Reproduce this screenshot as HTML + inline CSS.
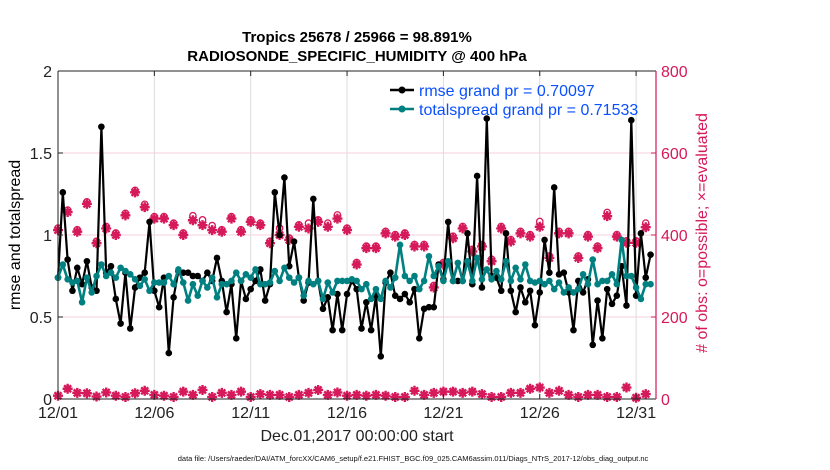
<!DOCTYPE html>
<html><head><meta charset="utf-8">
<style>
body{margin:0;background:#fff;}
svg{display:block;font-family:"Liberation Sans",Arial,sans-serif;}
</style></head>
<body>
<svg id="chart" width="830" height="470" viewBox="0 0 830 470">
  <rect width="830" height="470" fill="#fff"/>
  <g id="grid"></g>
  <g id="pinkSeries"></g>
  <g id="lines"></g>
  <g id="axes"></g>
  <text x="357" y="42" text-anchor="middle" font-size="15" font-weight="bold">Tropics 25678 / 25966 = 98.891%</text>
  <text x="357" y="61" text-anchor="middle" font-size="15" font-weight="bold">RADIOSONDE_SPECIFIC_HUMIDITY @ 400 hPa</text>
  <text transform="translate(20,235) rotate(-90)" text-anchor="middle" font-size="16">rmse and totalspread</text>
  <text transform="translate(707,233) rotate(-90)" text-anchor="middle" font-size="16" fill="#d6195a"># of obs: o=possible; ×=evaluated</text>
  <text x="357" y="441" text-anchor="middle" font-size="16" fill="#222">Dec.01,2017 00:00:00 start</text>
  <text x="413" y="461" text-anchor="middle" font-size="7.5" fill="#111">data file: /Users/raeder/DAI/ATM_forcXX/CAM6_setup/f.e21.FHIST_BGC.f09_025.CAM6assim.011/Diags_NTrS_2017-12/obs_diag_output.nc</text>
  <g>
    <line x1="390" y1="90" x2="414" y2="90" stroke="#000" stroke-width="2.5"/>
    <circle cx="402" cy="90" r="3.5" fill="#000"/>
    <text x="419" y="96" font-size="16" fill="#0a50ff">rmse grand pr = 0.70097</text>
    <line x1="390" y1="109" x2="414" y2="109" stroke="#008080" stroke-width="2.5"/>
    <circle cx="402" cy="109" r="3.5" fill="#008080"/>
    <text x="419" y="115" font-size="16" fill="#0a50ff">totalspread grand pr = 0.71533</text>
  </g>
</svg>
<script>
const rmse=[0.74,1.26,0.85,0.66,0.80,0.70,0.84,0.68,0.66,1.66,0.77,0.81,0.61,0.46,0.77,0.43,0.68,0.74,0.77,1.08,0.66,0.56,0.74,0.28,0.62,0.78,0.77,0.77,0.75,0.75,0.72,0.77,0.72,0.86,0.72,0.53,0.70,0.37,0.72,0.61,0.67,0.72,0.79,0.60,0.70,1.26,1.00,1.35,0.81,0.96,0.74,0.60,0.71,1.22,0.72,0.55,0.62,0.42,0.64,0.42,0.64,0.72,0.67,0.43,0.59,0.42,0.63,0.26,0.71,0.77,0.63,0.61,0.64,0.59,0.67,0.37,0.55,0.56,0.56,0.82,0.73,1.08,0.72,0.72,0.72,1.01,0.70,1.36,0.68,1.71,0.75,0.74,0.66,1.01,0.66,0.53,0.68,0.59,0.66,0.45,0.65,0.97,0.77,1.29,0.76,0.77,0.65,0.42,0.72,0.65,0.73,0.33,0.60,0.37,0.67,0.58,0.63,0.81,0.57,1.70,0.63,1.01,0.74,0.88];
const spread=[0.74,0.82,0.73,0.71,0.72,0.59,0.74,0.65,0.75,0.82,0.75,0.77,0.74,0.80,0.78,0.76,0.73,0.69,0.73,0.66,0.71,0.71,0.71,0.75,0.70,0.79,0.71,0.60,0.70,0.63,0.72,0.68,0.74,0.62,0.70,0.70,0.72,0.77,0.72,0.76,0.74,0.79,0.70,0.70,0.71,0.78,0.72,0.80,0.74,0.71,0.74,0.63,0.72,0.70,0.72,0.61,0.71,0.65,0.72,0.72,0.72,0.73,0.72,0.67,0.70,0.61,0.67,0.61,0.72,0.68,0.74,0.94,0.75,0.72,0.75,0.67,0.72,0.87,0.75,0.81,0.72,0.84,0.72,0.83,0.72,0.84,0.72,0.86,0.73,0.79,0.73,0.78,0.73,0.84,0.72,0.80,0.73,0.82,0.72,0.71,0.72,0.70,0.72,0.67,0.71,0.65,0.68,0.65,0.67,0.76,0.70,0.85,0.70,0.72,0.72,0.76,0.70,0.97,0.75,0.75,0.68,0.61,0.70,0.70];
const obsEvaluated=[412,456,408,476,380,416,400,448,504,468,440,440,424,400,436,424,412,408,440,408,432,424,380,400,388,420,416,432,420,440,412,328,368,368,404,396,400,372,372,272,328,392,416,360,372,336,416,384,404,396,420,344,404,404,344,396,368,446,396,381,381,419];
const obsPossible=[412,456,408,476,380,416,400,448,504,470,440,440,424,400,442,432,418,408,440,408,432,424,380,412,388,420,424,432,424,444,412,328,368,368,404,396,400,372,372,272,328,392,416,360,372,336,416,384,404,396,428,344,404,404,344,396,368,450,396,381,381,424];
const obsLow=[8,25,15,14,6,16,8,5,14,20,10,8,5,18,10,22,5,15,10,18,5,12,10,10,5,10,15,22,10,16,8,10,8,10,8,5,5,20,10,15,18,18,15,18,12,5,5,15,15,25,28,15,20,10,5,10,10,5,5,28,3,12];
const xTickLabels=["12/01","12/06","12/11","12/16","12/21","12/26","12/31"];
const yTickLabels=["0","0.5","1","1.5","2"];
const rTickLabels=["0","200","400","600","800"];

const NS="http://www.w3.org/2000/svg";
const L=58,R=656,T=71,B=399,DAY=19.27;
const xDay=d=>L+d*DAY;
const yL=v=>B-(v/2)*(B-T);
const yR=v=>B-(v/800)*(B-T);
function mk(tag,attrs,parent){const e=document.createElementNS(NS,tag);for(const k in attrs)e.setAttribute(k,attrs[k]);parent.appendChild(e);return e;}
const grid=document.getElementById('grid'),axes=document.getElementById('axes'),lines=document.getElementById('lines'),pink=document.getElementById('pinkSeries');

xTickLabels.forEach((lab,i)=>{
  const x=xDay(i*5);
  if(i>0){const g=mk('line',{x1:x,x2:x,y1:T,y2:B,stroke:'#dcdcdc','stroke-width':1},grid);
  
  }
  const tk=mk('line',{x1:x,x2:x,y1:B,y2:B-5,stroke:'#222'},axes);
  
  
  const tk2=mk('line',{x1:x,x2:x,y1:T,y2:T+5,stroke:'#222'},axes);
  
  
  const t=mk('text',{x:x,y:418,'text-anchor':'middle','font-size':16,fill:'#222'},axes);
  t.textContent=lab;
  
  
});
yTickLabels.forEach((lab,i)=>{
  const y=yL(i*0.5);
  if(i>0&&i<4){const g=mk('line',{x1:L,x2:R,y1:y,y2:y,stroke:'#f7cfe0','stroke-width':1},grid);
  
  }
  const tk=mk('line',{x1:L,x2:L+5,y1:y,y2:y,stroke:'#222'},axes);
  
  
  const t=mk('text',{x:52,y:y+6,'text-anchor':'end','font-size':16,fill:'#222'},axes);
  t.textContent=lab;
  
  
});
rTickLabels.forEach((lab,i)=>{
  const y=yR(i*200);
  const tk=mk('line',{x1:R-5,x2:R,y1:y,y2:y,stroke:'#d6195a'},axes);
  
  
  const t=mk('text',{x:661,y:y+6,'font-size':16,fill:'#d6195a'},axes);
  t.textContent=lab;
  
  
});
const la=mk('line',{x1:L,x2:L,y1:T,y2:B,stroke:'#222','stroke-width':1},axes);


const ta=mk('line',{x1:L,x2:R,y1:T,y2:T,stroke:'#222','stroke-width':1},axes);


const ba=mk('line',{x1:L,x2:R,y1:B,y2:B,stroke:'#222','stroke-width':1},axes);


const ra=mk('line',{x1:R,x2:R,y1:T,y2:B,stroke:'#d6195a','stroke-width':1.2},axes);



function star(x,y,p){
  return mk('path',{d:`M${x-5} ${y}H${x+5}M${x} ${y-5}V${y+5}M${x-3.5} ${y-3.5}L${x+3.5} ${y+3.5}M${x-3.5} ${y+3.5}L${x+3.5} ${y-3.5}`,stroke:'#d6195a','stroke-width':2.4,fill:'none'},p);
}
function drawObs(arr,name){
  arr.forEach((v,i)=>{
    const s=star(xDay(i*0.5),yR(v),pink);
    
    
  });
}
obsPossible.forEach((v,i)=>{
  const c=mk('circle',{cx:xDay(i*0.5),cy:yR(v)-2,r:3.2,fill:'#fff',stroke:'#d6195a','stroke-width':1.3},pink);
  
  
});
drawObs(obsEvaluated,'obs-evaluated-marker');
drawObs(obsLow,'obs-low-marker');

function drawLine(arr,color,name,w){
  const pts=arr.map((v,i)=>xDay(i*0.25).toFixed(1)+','+yL(v).toFixed(1)).join(' ');
  const pl=mk('polyline',{points:pts,fill:'none',stroke:color,'stroke-width':w,'stroke-linejoin':'round'},lines);
  
  
  arr.forEach((v,i)=>{
    const c=mk('circle',{cx:xDay(i*0.25),cy:yL(v),r:3.3,fill:color},lines);
    
    
  });
}
drawLine(rmse,'#000','rmse',2.2);
drawLine(spread,'#008080','totalspread',2.6);
</script>
</body></html>
